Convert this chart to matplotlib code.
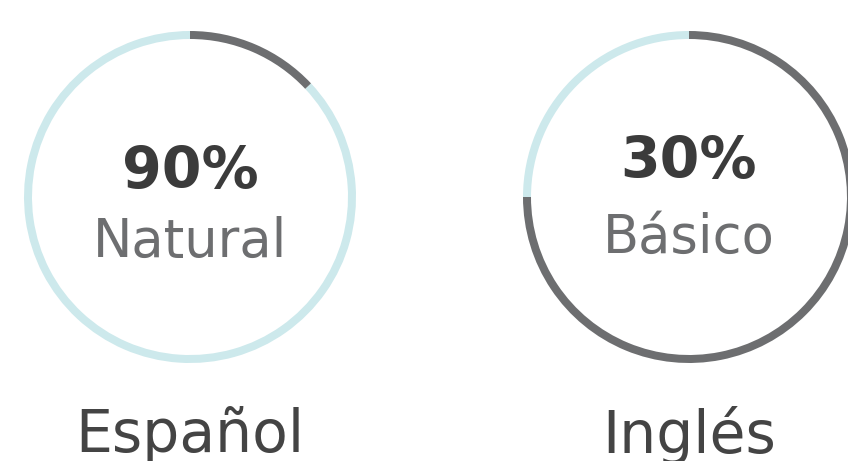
import matplotlib.pyplot as plt

# Gauge data (arc share read from the drawn rings)
languages = ['Español', 'Inglés']
percent_labels = ['90%', '30%']
levels = ['Natural', 'Básico']
arc_share = [0.87, 0.25]

W, H = 848, 461
fill_color = '#cde9ec'
rest_color = '#6d6e70'

fig = plt.figure(figsize=(W / 100, H / 100), dpi=100)
ax = fig.add_axes([0, 0, 1, 1])

centers = [(190, 197), (689, 197)]
# baselines in pixel rows (from top)
pct_y = [188, 178]
lvl_y = [257, 253]
name_y = [452, 453]

for i, lang in enumerate(languages):
    cx, cy = centers[i]
    share = arc_share[i]
    ax.pie([share, 1 - share], colors=[fill_color, rest_color],
           startangle=90, counterclock=True, center=(cx, H - cy),
           radius=166, wedgeprops=dict(width=8, linewidth=0))
    ax.text(cx, H - pct_y[i], percent_labels[i], ha='center', va='baseline',
            fontsize=41, fontweight='bold', family='DejaVu Sans', color='#3b3b3b')
    ax.text(cx, H - lvl_y[i], levels[i], ha='center', va='baseline',
            fontsize=38, family='DejaVu Sans', color='#6d6e70')
    ax.text(cx, H - name_y[i], lang, ha='center', va='baseline',
            fontsize=42, family='DejaVu Sans', color='#444444')

ax.set_xlim(0, W)
ax.set_ylim(0, H)
ax.set_aspect('equal')
ax.axis('off')

fig.savefig('out.png', dpi=100, facecolor='white')
